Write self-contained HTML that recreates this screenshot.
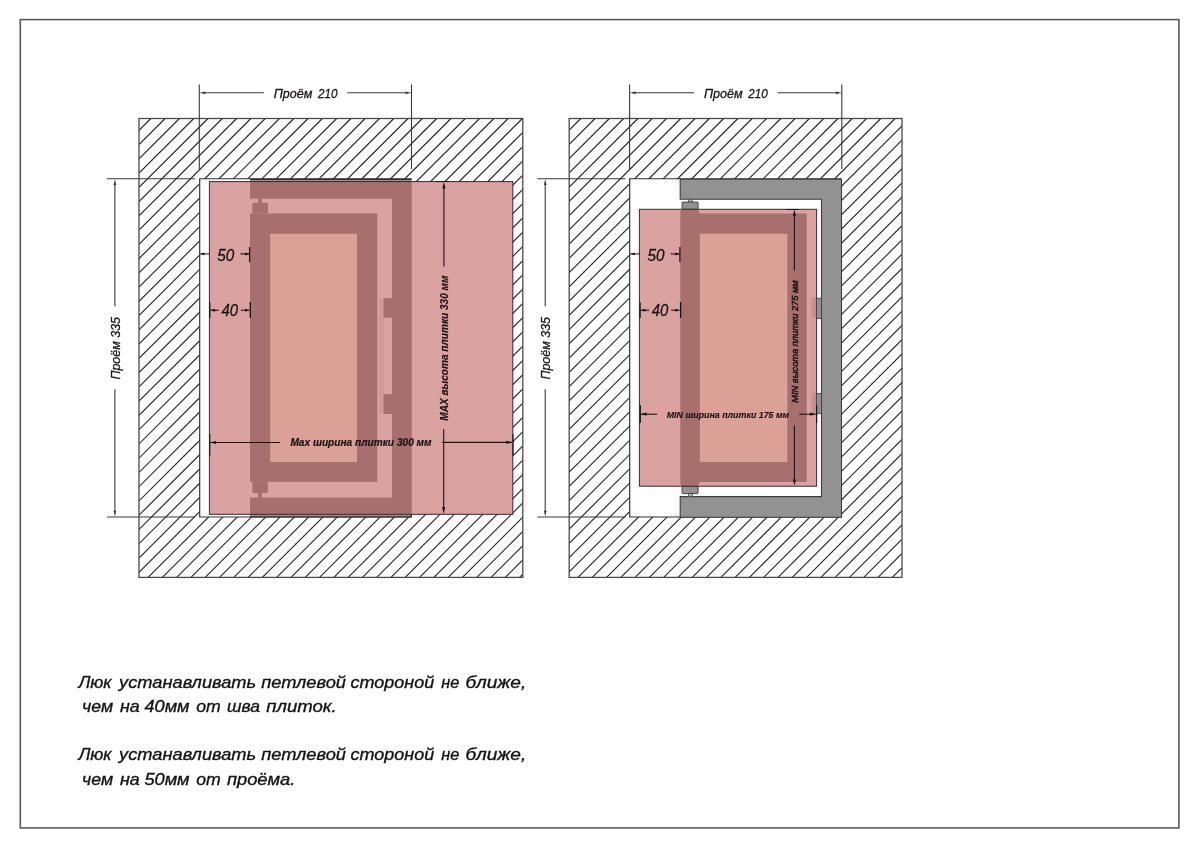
<!DOCTYPE html>
<html><head><meta charset="utf-8"><style>
html,body{margin:0;padding:0;background:#fff;width:1200px;height:848px;overflow:hidden}
svg{display:block}
text{font-family:"Liberation Sans",sans-serif}
</style></head><body>
<svg style="will-change:transform" width="1200" height="848" viewBox="0 0 1200 848" font-family="Liberation Sans, sans-serif"><rect width="1200" height="848" fill="#fff"/><rect x="20.3" y="19.6" width="1158.6" height="808.3" fill="none" stroke="#5a5a5a" stroke-width="1.6"/><clipPath id="cl0"><path clip-rule="evenodd" d="M139.0 118.5H522.8V577.4H139.0Z M199.5 179H411.5V517H199.5Z"/></clipPath>
<path clip-path="url(#cl0)" d="M139.00 130.36L150.89 118.50M139.00 144.61L165.18 118.50M139.00 158.87L179.47 118.50M139.00 173.12L193.76 118.50M139.00 187.37L208.04 118.50M139.00 201.63L222.33 118.50M139.00 215.88L236.62 118.50M139.00 230.13L250.91 118.50M139.00 244.39L265.20 118.50M139.00 258.64L279.49 118.50M139.00 272.90L293.78 118.50M139.00 287.15L308.07 118.50M139.00 301.40L322.36 118.50M139.00 315.66L336.65 118.50M139.00 329.91L350.93 118.50M139.00 344.16L365.22 118.50M139.00 358.42L379.51 118.50M139.00 372.67L393.80 118.50M139.00 386.92L408.09 118.50M139.00 401.18L422.38 118.50M139.00 415.43L436.67 118.50M139.00 429.69L450.96 118.50M139.00 443.94L465.25 118.50M139.00 458.19L479.54 118.50M139.00 472.45L493.82 118.50M139.00 486.70L508.11 118.50M139.00 500.95L522.40 118.50M139.00 515.21L522.80 132.36M139.00 529.46L522.80 146.61M139.00 543.71L522.80 160.86M139.00 557.97L522.80 175.12M139.00 572.22L522.80 189.37M148.10 577.40L522.80 203.63M162.39 577.40L522.80 217.88M176.68 577.40L522.80 232.13M190.97 577.40L522.80 246.39M205.25 577.40L522.80 260.64M219.54 577.40L522.80 274.89M233.83 577.40L522.80 289.15M248.12 577.40L522.80 303.40M262.41 577.40L522.80 317.65M276.70 577.40L522.80 331.91M290.99 577.40L522.80 346.16M305.28 577.40L522.80 360.42M319.57 577.40L522.80 374.67M333.86 577.40L522.80 388.92M348.14 577.40L522.80 403.18M362.43 577.40L522.80 417.43M376.72 577.40L522.80 431.68M391.01 577.40L522.80 445.94M405.30 577.40L522.80 460.19M419.59 577.40L522.80 474.44M433.88 577.40L522.80 488.70M448.17 577.40L522.80 502.95M462.46 577.40L522.80 517.21M476.75 577.40L522.80 531.46M491.03 577.40L522.80 545.71M505.32 577.40L522.80 559.97M519.61 577.40L522.80 574.22" stroke="#2a2a2a" stroke-width="1.15" fill="none"/>
<rect x="139.0" y="118.5" width="383.80" height="458.90" fill="none" stroke="#4a4a4a" stroke-width="1.3"/>
<path d="M411.5 178.7H199.7V517H411.5" fill="none" stroke="#303030" stroke-width="1.15"/><clipPath id="cl430"><path clip-rule="evenodd" d="M569.2 118.5H902.0V577.4H569.2Z M629.5 179H841.5V517H629.5Z"/></clipPath>
<path clip-path="url(#cl430)" d="M569.20 130.03L580.76 118.50M569.20 144.28L595.05 118.50M569.20 158.54L609.34 118.50M569.20 172.79L623.63 118.50M569.20 187.04L637.91 118.50M569.20 201.30L652.20 118.50M569.20 215.55L666.49 118.50M569.20 229.81L680.78 118.50M569.20 244.06L695.07 118.50M569.20 258.31L709.36 118.50M569.20 272.57L723.65 118.50M569.20 286.82L737.94 118.50M569.20 301.07L752.23 118.50M569.20 315.33L766.52 118.50M569.20 329.58L780.80 118.50M569.20 343.83L795.09 118.50M569.20 358.09L809.38 118.50M569.20 372.34L823.67 118.50M569.20 386.60L837.96 118.50M569.20 400.85L852.25 118.50M569.20 415.10L866.54 118.50M569.20 429.36L880.83 118.50M569.20 443.61L895.12 118.50M569.20 457.86L902.00 125.89M569.20 472.12L902.00 140.14M569.20 486.37L902.00 154.39M569.20 500.62L902.00 168.65M569.20 514.88L902.00 182.90M569.20 529.13L902.00 197.16M569.20 543.39L902.00 211.41M569.20 557.64L902.00 225.66M569.20 571.89L902.00 239.92M577.97 577.40L902.00 254.17M592.26 577.40L902.00 268.42M606.55 577.40L902.00 282.68M620.84 577.40L902.00 296.93M635.12 577.40L902.00 311.18M649.41 577.40L902.00 325.44M663.70 577.40L902.00 339.69M677.99 577.40L902.00 353.95M692.28 577.40L902.00 368.20M706.57 577.40L902.00 382.45M720.86 577.40L902.00 396.71M735.15 577.40L902.00 410.96M749.44 577.40L902.00 425.21M763.73 577.40L902.00 439.47M778.01 577.40L902.00 453.72M792.30 577.40L902.00 467.97M806.59 577.40L902.00 482.23M820.88 577.40L902.00 496.48M835.17 577.40L902.00 510.74M849.46 577.40L902.00 524.99M863.75 577.40L902.00 539.24M878.04 577.40L902.00 553.50M892.33 577.40L902.00 567.75" stroke="#2a2a2a" stroke-width="1.15" fill="none"/>
<rect x="569.2" y="118.5" width="332.80" height="458.90" fill="none" stroke="#4a4a4a" stroke-width="1.3"/>
<path d="M841.5 178.7H629.7V517H841.5" fill="none" stroke="#303030" stroke-width="1.15"/><rect x="209.4" y="181.6" width="303.4" height="332.7" fill="#fff"/>
<path d="M250 179.6H411.7V517H250V497.4H392V198.7H250Z" fill="#929292"/>
<path d="M250 179.3H411.7M250 516.9H411.7M411.4 514V517.5" stroke="#3a3030" stroke-width="1.2"/>
<rect x="250" y="213.5" width="127.3" height="268.3" fill="#929292"/>
<rect x="270.2" y="233.8" width="86.8" height="228.2" fill="#fffde6"/>
<path d="M252.3 213.5V204.2Q252.3 202.7 253.8 202.7H266.5Q268 202.7 268 204.2V213.5Z" fill="#929292"/><rect x="258" y="198.5" width="4" height="4.4" fill="#929292"/>
<path d="M252.3 481.5V491.4Q252.3 493 253.8 493H266.3Q267.8 493 267.8 491.4V481.5Z" fill="#929292"/><rect x="257.8" y="492.8" width="4.2" height="4.8" fill="#929292"/>
<rect x="379" y="297.2" width="4.5" height="117.3" fill="#eeeeee"/>
<rect x="383.5" y="298.2" width="8.6" height="19.5" fill="#929292"/><rect x="383.5" y="394.2" width="8.6" height="19.8" fill="#929292"/>
<rect x="209.4" y="181.6" width="303.4" height="332.7" fill="rgba(187,79,80,0.53)" stroke="#3c2629" stroke-width="1"/><path d="M680.2 179.3H841.5V517.3H680.2V496.6H821.5V199.3H680.2Z" fill="#929292" stroke="#3c3c3c" stroke-width="1.1" stroke-linejoin="round"/>
<rect x="688.5" y="199.2" width="4" height="2.9" fill="#b5b5b5" stroke="#444" stroke-width="0.7"/>
<rect x="682.1" y="202.1" width="16" height="7.2" rx="0.6" fill="#929292" stroke="#3c3c3c" stroke-width="0.9"/>
<rect x="688.5" y="493.6" width="4" height="2.9" fill="#b5b5b5" stroke="#444" stroke-width="0.7"/>
<rect x="682.1" y="486.2" width="16" height="7.4" rx="0.6" fill="#929292" stroke="#3c3c3c" stroke-width="0.9"/>
<path d="M681.6 209.3H698L699.9 213.6H806.7V482H699.9L698 486.2H681.8L680.3 484V211.3Z" fill="#929292"/>
<rect x="699.8" y="233.7" width="87.6" height="228.3" fill="#fffde6"/>
<rect x="809.5" y="297" width="6.6" height="117.3" fill="#f2f2f2"/>
<rect x="812.3" y="297" width="3.8" height="20.5" fill="#d2d2d2"/><rect x="812.3" y="393.3" width="3.8" height="20.7" fill="#d2d2d2"/>
<rect x="639.4" y="209.3" width="177.2" height="276.9" fill="rgba(187,79,80,0.53)" stroke="#3e2a2c" stroke-width="1"/>
<rect x="816.4" y="298.2" width="5.1" height="20.3" fill="#929292" stroke="#3c3c3c" stroke-width="0.8"/><rect x="816.4" y="393.6" width="5.1" height="20.1" fill="#929292" stroke="#3c3c3c" stroke-width="0.8"/><path d="M199.3 84.5V169M411.5 84.5V169" stroke="#3a3a3a" stroke-width="1.1"/>
<path d="M263.80 92.80L205.50 92.80" stroke="#3a3a3a" stroke-width="1.1"/><path d="M199.50 92.80L205.50 91.40L205.50 94.20Z" fill="#3a3a3a"/>
<path d="M347.20 92.80L405.30 92.80" stroke="#3a3a3a" stroke-width="1.1"/><path d="M411.30 92.80L405.30 94.20L405.30 91.40Z" fill="#3a3a3a"/>
<text x="273.70" y="97.90" font-size="13.4" font-weight="normal" font-style="italic" fill="#1c1416" stroke="#1c1416" stroke-width="0.3" textLength="38.6" lengthAdjust="spacingAndGlyphs">Проём</text>
<text x="317.94" y="97.90" font-size="13.4" font-weight="normal" font-style="italic" fill="#1c1416" stroke="#1c1416" stroke-width="0.3" textLength="19.48" lengthAdjust="spacingAndGlyphs">210</text>
<path d="M107 178.8H195M107 517H195" stroke="#3a3a3a" stroke-width="1.1"/>
<path d="M114.90 306.20L114.90 185.20" stroke="#3a3a3a" stroke-width="1.1"/><path d="M114.90 179.20L116.30 185.20L113.50 185.20Z" fill="#3a3a3a"/>
<path d="M114.90 389.20L114.90 510.60" stroke="#3a3a3a" stroke-width="1.1"/><path d="M114.90 516.60L113.50 510.60L116.30 510.60Z" fill="#3a3a3a"/>
<g transform="translate(120.05 379.60) rotate(-90)"><text x="0.00" y="0.00" font-size="13.4" font-weight="normal" font-style="italic" fill="#1c1416" stroke="#1c1416" stroke-width="0.3" textLength="62.6" lengthAdjust="spacingAndGlyphs">Проём 335</text></g>
<path d="M200 253.9H209.4" stroke="#1c1416" stroke-width="1"/><path d="M200.2 253.9L204.5 252.5V255.3Z" fill="#1c1416"/>
<path d="M240.3 253.9H249" stroke="#1c1416" stroke-width="1.1"/><path d="M249.3 253.9L245 252.4V255.4Z" fill="#1c1416"/>
<path d="M249.6 247V262.3" stroke="#1c1416" stroke-width="1.3"/>
<text x="217.30" y="260.70" font-size="15.8" font-weight="normal" font-style="italic" fill="#1c1416" stroke="#1c1416" stroke-width="0.3" textLength="17.0" lengthAdjust="spacingAndGlyphs">50</text>
<path d="M210.6 310.2H218.8" stroke="#1c1416" stroke-width="1.1"/><path d="M210.6 310.2L215 308.7V311.7Z" fill="#1c1416"/>
<path d="M240.8 310.2H249.2" stroke="#1c1416" stroke-width="1.1"/><path d="M249.4 310.2L245 308.7V311.7Z" fill="#1c1416"/>
<path d="M250.3 302V318M209.8 302.5V318" stroke="#1c1416" stroke-width="1.3"/>
<text x="221.50" y="316.00" font-size="15.8" font-weight="normal" font-style="italic" fill="#1c1416" stroke="#1c1416" stroke-width="0.3" textLength="16.6" lengthAdjust="spacingAndGlyphs">40</text><path d="M629.6 84.5V169M841.8 84.5V169" stroke="#3a3a3a" stroke-width="1.1"/>
<path d="M694.10 92.80L635.80 92.80" stroke="#3a3a3a" stroke-width="1.1"/><path d="M629.80 92.80L635.80 91.40L635.80 94.20Z" fill="#3a3a3a"/>
<path d="M777.50 92.80L835.60 92.80" stroke="#3a3a3a" stroke-width="1.1"/><path d="M841.60 92.80L835.60 94.20L835.60 91.40Z" fill="#3a3a3a"/>
<text x="704.00" y="97.90" font-size="13.4" font-weight="normal" font-style="italic" fill="#1c1416" stroke="#1c1416" stroke-width="0.3" textLength="38.6" lengthAdjust="spacingAndGlyphs">Проём</text>
<text x="748.24" y="97.90" font-size="13.4" font-weight="normal" font-style="italic" fill="#1c1416" stroke="#1c1416" stroke-width="0.3" textLength="19.48" lengthAdjust="spacingAndGlyphs">210</text>
<path d="M537.3 178.8H625.3M537.3 517H625.3" stroke="#3a3a3a" stroke-width="1.1"/>
<path d="M545.20 306.20L545.20 185.20" stroke="#3a3a3a" stroke-width="1.1"/><path d="M545.20 179.20L546.60 185.20L543.80 185.20Z" fill="#3a3a3a"/>
<path d="M545.20 389.20L545.20 510.60" stroke="#3a3a3a" stroke-width="1.1"/><path d="M545.20 516.60L543.80 510.60L546.60 510.60Z" fill="#3a3a3a"/>
<g transform="translate(550.35 379.60) rotate(-90)"><text x="0.00" y="0.00" font-size="13.4" font-weight="normal" font-style="italic" fill="#1c1416" stroke="#1c1416" stroke-width="0.3" textLength="62.6" lengthAdjust="spacingAndGlyphs">Проём 335</text></g>
<path d="M630.3 253.9H639.7" stroke="#1c1416" stroke-width="1"/><path d="M630.5 253.9L634.8 252.5V255.3Z" fill="#1c1416"/>
<path d="M670.6 253.9H679.3" stroke="#1c1416" stroke-width="1.1"/><path d="M679.6 253.9L675.3 252.4V255.4Z" fill="#1c1416"/>
<path d="M679.9 247V262.3" stroke="#1c1416" stroke-width="1.3"/>
<text x="647.60" y="260.70" font-size="15.8" font-weight="normal" font-style="italic" fill="#1c1416" stroke="#1c1416" stroke-width="0.3" textLength="17.0" lengthAdjust="spacingAndGlyphs">50</text>
<path d="M640.9 310.2H649.1" stroke="#1c1416" stroke-width="1.1"/><path d="M640.9 310.2L645.3 308.7V311.7Z" fill="#1c1416"/>
<path d="M671.1 310.2H679.5" stroke="#1c1416" stroke-width="1.1"/><path d="M679.7 310.2L675.3 308.7V311.7Z" fill="#1c1416"/>
<path d="M680.6 302V318M640.1 302.5V318" stroke="#1c1416" stroke-width="1.3"/>
<text x="651.80" y="316.00" font-size="15.8" font-weight="normal" font-style="italic" fill="#1c1416" stroke="#1c1416" stroke-width="0.3" textLength="16.6" lengthAdjust="spacingAndGlyphs">40</text><path d="M209.8 442.5H280" stroke="#1c1416" stroke-width="1.1"/><path d="M209.8 442.5L216 440.9V444.1Z" fill="#1c1416"/>
<path d="M442 442.4H512" stroke="#1c1416" stroke-width="1.1"/><path d="M512.5 442.4L506.3 440.8V444Z" fill="#1c1416"/>
<path d="M209.8 434V455.4M513 434V455.4" stroke="#1c1416" stroke-width="1.1"/>
<text x="290.40" y="446.30" font-size="10.6" font-weight="bold" font-style="italic" fill="#1c1416" stroke="#1c1416" stroke-width="0.2" textLength="141.2" lengthAdjust="spacingAndGlyphs">Max ширина плитки 300 мм</text>
<path d="M443.9 266.5V187M436 181.5H449" stroke="#1c1416" stroke-width="1.1"/><path d="M443.9 181.8L442.3 188.5H445.5Z" fill="#1c1416"/>
<path d="M443.7 429V508" stroke="#1c1416" stroke-width="1.1"/><path d="M443.7 513.8L442.1 507H445.3Z" fill="#1c1416"/>
<g transform="translate(448.00 420.70) rotate(-90)"><text x="0.00" y="0.00" font-size="10.7" font-weight="bold" font-style="italic" fill="#1c1416" stroke="#1c1416" stroke-width="0.2" textLength="145.2" lengthAdjust="spacingAndGlyphs">MAX высота плитки 330 мм</text></g><path d="M640.5 414.2H657.2" stroke="#1c1416" stroke-width="1.1"/><path d="M640.5 414.2L646.5 412.6V415.8Z" fill="#1c1416"/>
<path d="M799.3 414.2H815.5" stroke="#1c1416" stroke-width="1.1"/><path d="M816 414.2L810 412.6V415.8Z" fill="#1c1416"/>
<path d="M640.3 405V423M816.6 405V423" stroke="#1c1416" stroke-width="1.2"/>
<text x="666.70" y="417.90" font-size="9.4" font-weight="bold" font-style="italic" fill="#1c1416" stroke="#1c1416" stroke-width="0.15" textLength="122.4" lengthAdjust="spacingAndGlyphs">MIN ширина плитки 175 мм</text>
<path d="M794.4 270.6V215M786.2 209.5H799" stroke="#1c1416" stroke-width="1.1"/><path d="M794.4 209.8L792.8 215.8H796Z" fill="#1c1416"/>
<path d="M794.4 425.4V480" stroke="#1c1416" stroke-width="1.1"/><path d="M794.4 485.5L792.8 479.5H796Z" fill="#1c1416"/>
<g transform="translate(797.70 402.70) rotate(-90)"><text x="0.00" y="0.00" font-size="9.4" font-weight="normal" font-style="italic" fill="#1c1416" stroke="#1c1416" stroke-width="0.5" textLength="122.4" lengthAdjust="spacingAndGlyphs">MIN высота плитки 275 мм</text></g><text x="78.45" y="688.0" font-size="16.5" font-style="italic" fill="#141414" stroke="#141414" stroke-width="0.35" textLength="33.11" lengthAdjust="spacingAndGlyphs">Люк</text>
<text x="119.1" y="688.0" font-size="16.5" font-style="italic" fill="#141414" stroke="#141414" stroke-width="0.35" textLength="137.0" lengthAdjust="spacingAndGlyphs">устанавливать</text>
<text x="261.25" y="688.0" font-size="16.5" font-style="italic" fill="#141414" stroke="#141414" stroke-width="0.35" textLength="84.7" lengthAdjust="spacingAndGlyphs">петлевой</text>
<text x="350.6" y="688.0" font-size="16.5" font-style="italic" fill="#141414" stroke="#141414" stroke-width="0.35" textLength="83.6" lengthAdjust="spacingAndGlyphs">стороной</text>
<text x="441.25" y="688.0" font-size="16.5" font-style="italic" fill="#141414" stroke="#141414" stroke-width="0.35" textLength="18.01" lengthAdjust="spacingAndGlyphs">не</text>
<text x="465.6" y="688.0" font-size="16.5" font-style="italic" fill="#141414" stroke="#141414" stroke-width="0.35" textLength="60.66" lengthAdjust="spacingAndGlyphs">ближе,</text>
<text x="82.07" y="712.0" font-size="16.5" font-style="italic" fill="#141414" stroke="#141414" stroke-width="0.35" textLength="31.03" lengthAdjust="spacingAndGlyphs">чем</text>
<text x="120.0" y="712.0" font-size="16.5" font-style="italic" fill="#141414" stroke="#141414" stroke-width="0.35" textLength="19.81" lengthAdjust="spacingAndGlyphs">на</text>
<text x="144.4" y="712.0" font-size="16.5" font-style="italic" fill="#141414" stroke="#141414" stroke-width="0.35" textLength="45.2" lengthAdjust="spacingAndGlyphs">40мм</text>
<text x="196.25" y="712.0" font-size="16.5" font-style="italic" fill="#141414" stroke="#141414" stroke-width="0.35" textLength="24.52" lengthAdjust="spacingAndGlyphs">от</text>
<text x="226.9" y="712.0" font-size="16.5" font-style="italic" fill="#141414" stroke="#141414" stroke-width="0.35" textLength="33.01" lengthAdjust="spacingAndGlyphs">шва</text>
<text x="266.25" y="712.0" font-size="16.5" font-style="italic" fill="#141414" stroke="#141414" stroke-width="0.35" textLength="70.55" lengthAdjust="spacingAndGlyphs">плиток.</text>
<text x="78.45" y="760.3" font-size="16.5" font-style="italic" fill="#141414" stroke="#141414" stroke-width="0.35" textLength="33.11" lengthAdjust="spacingAndGlyphs">Люк</text>
<text x="119.1" y="760.3" font-size="16.5" font-style="italic" fill="#141414" stroke="#141414" stroke-width="0.35" textLength="137.0" lengthAdjust="spacingAndGlyphs">устанавливать</text>
<text x="261.25" y="760.3" font-size="16.5" font-style="italic" fill="#141414" stroke="#141414" stroke-width="0.35" textLength="84.7" lengthAdjust="spacingAndGlyphs">петлевой</text>
<text x="350.6" y="760.3" font-size="16.5" font-style="italic" fill="#141414" stroke="#141414" stroke-width="0.35" textLength="83.6" lengthAdjust="spacingAndGlyphs">стороной</text>
<text x="441.25" y="760.3" font-size="16.5" font-style="italic" fill="#141414" stroke="#141414" stroke-width="0.35" textLength="18.01" lengthAdjust="spacingAndGlyphs">не</text>
<text x="465.6" y="760.3" font-size="16.5" font-style="italic" fill="#141414" stroke="#141414" stroke-width="0.35" textLength="60.66" lengthAdjust="spacingAndGlyphs">ближе,</text>
<text x="82.07" y="784.6" font-size="16.5" font-style="italic" fill="#141414" stroke="#141414" stroke-width="0.35" textLength="31.03" lengthAdjust="spacingAndGlyphs">чем</text>
<text x="120.0" y="784.6" font-size="16.5" font-style="italic" fill="#141414" stroke="#141414" stroke-width="0.35" textLength="19.81" lengthAdjust="spacingAndGlyphs">на</text>
<text x="144.4" y="784.6" font-size="16.5" font-style="italic" fill="#141414" stroke="#141414" stroke-width="0.35" textLength="45.2" lengthAdjust="spacingAndGlyphs">50мм</text>
<text x="196.25" y="784.6" font-size="16.5" font-style="italic" fill="#141414" stroke="#141414" stroke-width="0.35" textLength="24.52" lengthAdjust="spacingAndGlyphs">от</text>
<text x="226.9" y="784.6" font-size="16.5" font-style="italic" fill="#141414" stroke="#141414" stroke-width="0.35" textLength="68.48" lengthAdjust="spacingAndGlyphs">проёма.</text></svg>
</body></html>
